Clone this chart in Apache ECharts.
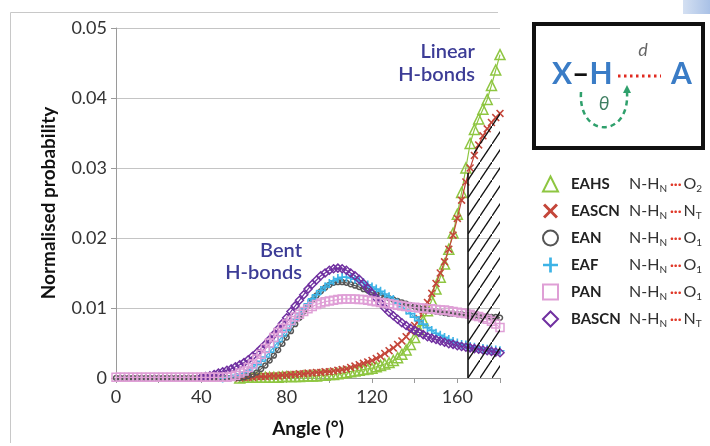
<!DOCTYPE html>
<html><head><meta charset="utf-8">
<script src="https://cdn.jsdelivr.net/npm/echarts@6/dist/echarts.min.js"></script>
<style>html,body{margin:0;padding:0;background:#fff}#c{width:710px;height:446px}</style>
</head><body><div id="c"></div>
<script>
const angles=[0,2,4,6,8,10,12,14,16,18,20,22,24,26,28,30,32,34,36,38,40,42,44,46,48,50,52,54,56,58,60,62,64,66,68,70,72,74,76,78,80,82,84,86,88,90,92,94,96,98,100,102,104,106,108,110,112,114,116,118,120,122,124,126,128,130,132,134,136,138,140,142,144,146,148,150,152,154,156,158,160,162,164,166,168,170,172,174,176,178,180];
const _=null;
const EAHS=[_,_,_,_,_,_,_,_,_,_, _,_,_,_,_,_,_,_,_,_, _,_,_,_,_,_,_,_,_,0.0000,
 0.0001,0.0001,0.0001,0.0001,0.0001,0.0001,0.0001,0.0001,0.0001,0.0002,
 0.0002,0.0002,0.0002,0.0002,0.0003,0.0003,0.0003,0.0003,0.0004,0.0004,
 0.0005,0.0005,0.0006,0.0007,0.0008,0.0009,0.0010,0.0011,0.0012,0.0013,
 0.0014,0.0016,0.0018,0.0020,0.0022,0.0025,0.0029,0.0034,0.0040,0.0048,
 0.0058,0.0069,0.0082,0.0096,0.0111,0.0127,0.0144,0.0163,0.0184,0.0207,
 0.0234,0.0265,0.0300,0.0335,0.0355,0.0370,0.0384,0.0398,0.0418,0.0440,
 0.0462];
const EASCN=[_,_,_,_,_,_,_,_,_,_, _,_,_,_,_,_,_,_,_,_, _,_,_,_,_,_,_,_,_,0.0000,
 0.0001,0.0001,0.0001,0.0002,0.0002,0.0002,0.0003,0.0003,0.0003,0.0004,
 0.0004,0.0005,0.0005,0.0006,0.0006,0.0007,0.0007,0.0008,0.0008,0.0009,
 0.0009,0.0010,0.0011,0.0012,0.0013,0.0015,0.0017,0.0019,0.0021,0.0023,
 0.0025,0.0028,0.0031,0.0035,0.0039,0.0043,0.0048,0.0053,0.0059,0.0067,
 0.0075,0.0085,0.0096,0.0108,0.0121,0.0135,0.0150,0.0166,0.0184,0.0204,
 0.0228,0.0254,0.0280,0.0300,0.0318,0.0333,0.0346,0.0356,0.0365,0.0372,
 0.0378];
const EAN=[0,0,0,0,0,0,0,0,0,0, 0,0,0,0,0,0,0,0,0,0, 0,0,0,0,0,0,0,0,0,0,
 0.0001,0.0003,0.0005,0.0008,0.0013,0.0018,0.0025,0.0032,0.0040,0.0049,
 0.0058,0.0067,0.0077,0.0086,0.0095,0.0103,0.0111,0.0118,0.0124,0.0129,
 0.0133,0.0136,0.0137,0.0137,0.0136,0.0134,0.0132,0.0130,0.0127,0.0125,
 0.0122,0.0120,0.0118,0.0116,0.0114,0.0112,0.0110,0.0108,0.0106,0.0104,
 0.0102,0.0100,0.0099,0.0097,0.0096,0.0095,0.0094,0.0093,0.0092,0.0092,
 0.0091,0.0091,0.0090,0.0090,0.0089,0.0089,0.0088,0.0088,0.0087,0.0087,
 0.0086];
const EAF=[_,_,_,_,_,_,_,_,_,_, _,_,_,_,_,_,_,_,_,_, _,_,_,_,_,0.0000,0.0001,0.0002,0.0004,0.0006,
 0.0008,0.0011,0.0015,0.0019,0.0024,0.0030,0.0037,0.0044,0.0052,0.0060,
 0.0068,0.0076,0.0084,0.0092,0.0099,0.0106,0.0113,0.0119,0.0125,0.0130,
 0.0135,0.0139,0.0142,0.0144,0.0144,0.0143,0.0141,0.0139,0.0136,0.0133,
 0.0130,0.0127,0.0124,0.0120,0.0116,0.0112,0.0107,0.0102,0.0097,0.0092,
 0.0087,0.0082,0.0077,0.0072,0.0068,0.0064,0.0061,0.0058,0.0055,0.0052,
 0.0050,0.0048,0.0047,0.0045,0.0044,0.0043,0.0042,0.0041,0.0040,0.0040,
 0.0039];
const PAN=[0.0001,0.0001,0.0001,0.0001,0.0001,0.0001,0.0001,0.0001,0.0001,0.0001,
 0.0001,0.0001,0.0001,0.0001,0.0001,0.0001,0.0001,0.0001,0.0001,0.0001,
 0.0001,0.0001,0.0001,0.0001,0.0001,0.0001,0.0001,0.0002,0.0004,0.0007,
 0.0010,0.0015,0.0020,0.0027,0.0034,0.0042,0.0050,0.0058,0.0065,0.0071,
 0.0077,0.0082,0.0087,0.0091,0.0095,0.0099,0.0102,0.0105,0.0107,0.0109,
 0.0110,0.0111,0.0112,0.0113,0.0113,0.0113,0.0113,0.0112,0.0112,0.0111,
 0.0110,0.0109,0.0108,0.0107,0.0106,0.0105,0.0104,0.0103,0.0102,0.0101,
 0.0101,0.0100,0.0100,0.0099,0.0099,0.0098,0.0097,0.0097,0.0096,0.0095,
 0.0094,0.0093,0.0092,0.0091,0.0089,0.0088,0.0086,0.0084,0.0081,0.0077,
 0.0072];
const BASCN=[_,_,_,_,_,_,_,_,_,_, _,_,_,_,_,_,_,_,_,_,
 0.0001,0.0002,0.0003,0.0005,0.0007,0.0009,0.0011,0.0013,0.0016,0.0019,
 0.0022,0.0026,0.0031,0.0036,0.0042,0.0048,0.0055,0.0062,0.0070,0.0078,
 0.0086,0.0095,0.0103,0.0111,0.0119,0.0127,0.0134,0.0140,0.0146,0.0150,
 0.0154,0.0156,0.0157,0.0156,0.0154,0.0150,0.0146,0.0141,0.0135,0.0128,
 0.0121,0.0114,0.0107,0.0100,0.0094,0.0089,0.0084,0.0079,0.0075,0.0071,
 0.0068,0.0065,0.0062,0.0059,0.0057,0.0055,0.0053,0.0051,0.0049,0.0048,
 0.0046,0.0045,0.0044,0.0043,0.0042,0.0041,0.0040,0.0039,0.0038,0.0037,
 0.0036];
// hatched "linear H-bond" region (upper boundary)
const hatchX=[165,165,168,171,174,177,180];
const hatchY=[0,0.0293,0.0325,0.0345,0.0362,0.0378,0.0390];
const xTicks=[0,40,80,120,160];
const yTicks=[0,0.01,0.02,0.03,0.04,0.05];
const names=['EAHS','EASCN','EAN','EAF','PAN','BASCN'];
const acceptor=['O','N','O','O','O','N'];
const accSub=['2','T','1','1','1','T'];

const XPATH='path://M0,1.4L1.4,0L5,3.6L8.6,0L10,1.4L6.4,5L10,8.6L8.6,10L5,6.4L1.4,10L0,8.6L3.6,5Z';
const PPATH='path://M4.1,0H5.9V4.1H10V5.9H5.9V10H4.1V5.9H0V4.1H4.1Z';

function pts(v){return angles.map((a,i)=>[a,v[i]]);}
function hatchPattern(){
  const c=document.createElement('canvas');c.width=12;c.height=18;
  const g=c.getContext('2d');g.strokeStyle='#111';g.lineWidth=1.3;
  g.beginPath();g.moveTo(-2,21);g.lineTo(14,-3);g.stroke();
  return c;
}
const F='Lato, "Open Sans", sans-serif';
const chart=echarts.init(document.getElementById('c'),null,{renderer:'canvas'});

function ser(name,data,color,symbol,size,hollow,z){
  return {name,type:'line',data:pts(data),symbol,symbolSize:size,z,
    lineStyle:{color,width:1.2},
    itemStyle:hollow?{color:'rgba(255,255,255,0)',borderColor:color,borderWidth:1.5}:{color},
    emphasis:{disabled:true},silent:true};
}

chart.setOption({
  animation:false,
  backgroundColor:'#fff',
  grid:{left:116,top:28,width:384,height:350,containLabel:false},
  xAxis:{type:'value',min:0,max:180,interval:20,
    name:'Angle (°)',nameLocation:'middle',nameGap:41,
    nameTextStyle:{fontFamily:F,fontWeight:'bold',fontSize:19,color:'#111'},
    axisLine:{show:true,lineStyle:{color:'#9a9a9a',width:1}},
    axisTick:{show:true,length:5,lineStyle:{color:'#9a9a9a'}},
    splitLine:{show:false},
    axisLabel:{fontFamily:F,fontSize:18,color:'#333',margin:10,
      formatter:v=>xTicks.indexOf(v)>=0?String(v):''}},
  yAxis:{type:'value',min:0,max:0.05,interval:0.01,
    name:'Normalised probability',nameLocation:'middle',nameGap:58,
    nameTextStyle:{fontFamily:F,fontWeight:'bold',fontSize:19,color:'#111'},
    axisLine:{show:true,lineStyle:{color:'#9a9a9a',width:1}},
    axisTick:{show:true,length:5,lineStyle:{color:'#9a9a9a'}},
    splitLine:{show:true,lineStyle:{color:'#c4c4c4',width:1}},
    axisLabel:{fontFamily:F,fontSize:18,color:'#333',margin:9,
      formatter:v=>{const t=yTicks.find(k=>Math.abs(k-v)<1e-9);return t===0?'0':String(t);}}},
  legend:{orient:'vertical',left:537,top:169,itemWidth:15,itemHeight:15,itemGap:7,
    data:[{name:'EAHS',icon:'triangle'},{name:'EASCN',icon:XPATH},{name:'EAN',icon:'circle'},
          {name:'EAF',icon:PPATH},{name:'PAN',icon:'rect'},{name:'BASCN',icon:'diamond'}],
    selectedMode:false,
    formatter:n=>{const i=names.indexOf(n);return `{n|${n}}{f|N-H}{s|N}{d|···}{f|${acceptor[i]}}{s|${accSub[i]}}`;},
    textStyle:{lineHeight:20,rich:{
      n:{fontFamily:F,fontWeight:'bold',fontSize:15,color:'#222',width:58,padding:[0,0,0,8]},
      f:{fontFamily:F,fontSize:16,color:'#333'},
      s:{fontFamily:F,fontSize:10,color:'#333',padding:[9,0,0,0]},
      d:{fontFamily:F,fontSize:14,fontWeight:'bold',color:'#e03a2a',padding:[0,2,0,3]}}}},
  series:[
    ser('EAHS',EAHS,'#8ec641','triangle',10,true,2),
    ser('EASCN',EASCN,'#c4463a',XPATH,8,false,3),
    ser('EAN',EAN,'#555555','circle',5,true,4),
    ser('EAF',EAF,'#3db3e6',PPATH,9,false,5),
    ser('BASCN',BASCN,'#7030a0','diamond',8,true,6),
    ser('PAN',PAN,'#df9fd6','rect',8,true,7),
    {name:'hatch',type:'line',data:hatchX.map((x,i)=>[x,hatchY[i]]),symbol:'none',z:8,silent:true,
      lineStyle:{width:0},areaStyle:{color:{image:hatchPattern(),repeat:'repeat'},opacity:1}},
    {name:'edge',type:'line',data:hatchX.slice(0,2).map((x,i)=>[x,hatchY[i]]),symbol:'none',z:9,silent:true,
      lineStyle:{color:'#111',width:1.6}}
  ],
  graphic:[
    {type:'polyline',shape:{points:[[10.5,443],[10.5,12.5],[498,12.5]]},style:{stroke:'#c8c8c8',fill:null,lineWidth:1},z:-1},
    {type:'rect',shape:{x:683,y:0,width:27,height:14},style:{fill:new echarts.graphic.LinearGradient(0,0,1,0,[{offset:0,color:'#d4e0f2'},{offset:1,color:'#a9c1e6'}])}},
    {type:'text',x:475,y:52,style:{text:'Linear',font:'600 20px '+F,fill:'#3c3c96',align:'right',verticalAlign:'middle'}},
    {type:'text',x:475,y:75,style:{text:'H-bonds',font:'600 20px '+F,fill:'#3c3c96',align:'right',verticalAlign:'middle'}},
    {type:'text',x:302,y:251,style:{text:'Bent',font:'600 20px '+F,fill:'#3c3c96',align:'right',verticalAlign:'middle'}},
    {type:'text',x:302,y:273,style:{text:'H-bonds',font:'600 20px '+F,fill:'#3c3c96',align:'right',verticalAlign:'middle'}},
    {type:'rect',shape:{x:534,y:24,width:169,height:124},style:{stroke:'#111',lineWidth:4,fill:'#fff'}},
    {type:'text',x:552,y:74,style:{text:'{b|X}{k|–}{b|H}',verticalAlign:'middle',rich:{
      b:{font:'bold 30px '+F,fill:'#3a7cc6'},k:{font:'bold 30px '+F,fill:'#111'}}}},
    {type:'text',x:671,y:74,style:{text:'A',font:'bold 30px '+F,fill:'#3a7cc6',verticalAlign:'middle'}},
    {type:'line',shape:{x1:618,y1:76,x2:661,y2:76},style:{stroke:'#e02a20',lineWidth:3,lineDash:[2.5,3.5]}},
    {type:'text',x:643,y:50,style:{text:'d',font:'italic 18px '+F,fill:'#666',align:'center',verticalAlign:'middle'}},
    {type:'text',x:604,y:104,style:{text:'θ',font:'italic 19px '+F,fill:'#3f7f62',align:'center',verticalAlign:'middle'}},
    {type:'bezierCurve',shape:{x1:581,y1:92,cpx1:578,cpy1:139,cpx2:630,cpy2:139,x2:627,y2:92},
      style:{stroke:'#2fa06c',lineWidth:2.5,lineDash:[5,4],fill:null}},
    {type:'polygon',shape:{points:[[623,93],[631,93],[627,85]]},style:{fill:'#2fa06c'}}
  ]
});
</script></body></html>
